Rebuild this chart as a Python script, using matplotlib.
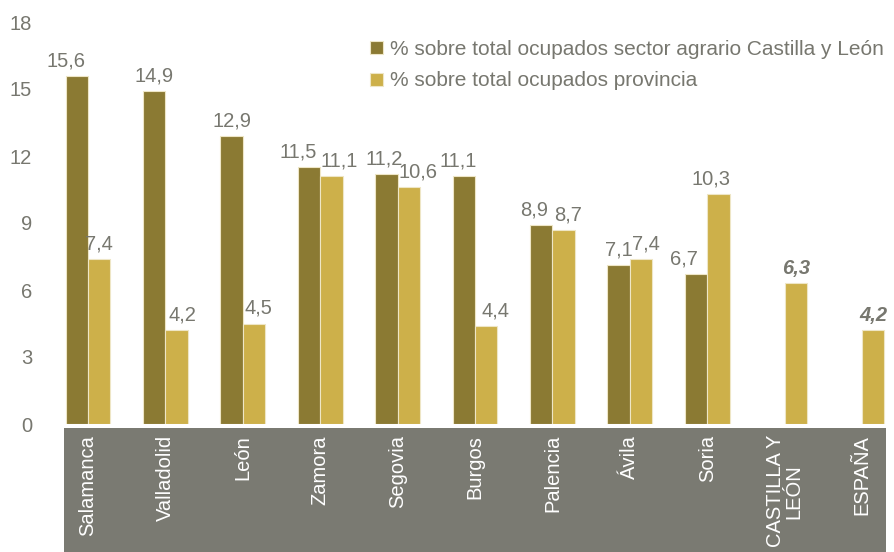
import matplotlib
matplotlib.use("Agg")
import matplotlib.pyplot as plt
from matplotlib.patches import Rectangle
import numpy as np

categories = ["Salamanca", "Valladolid", "León", "Zamora", "Segovia", "Burgos",
              "Palencia", "Ávila", "Soria", "CASTILLA Y\nLEÓN", "ESPAÑA"]
sector_cyl = [15.6, 14.9, 12.9, 11.5, 11.2, 11.1, 8.9, 7.1, 6.7, None, None]
provincia = [7.4, 4.2, 4.5, 11.1, 10.6, 4.4, 8.7, 7.4, 10.3, 6.3, 4.2]
legend_labels = ["% sobre total ocupados sector agrario Castilla y León",
                 "% sobre total ocupados provincia"]
yticks = [0, 3, 6, 9, 12, 15, 18]

# horizontal nudges of the value labels (pixels), as placed in the original
nudge_dark = [-11, 0, 0, -11, -2, -6, -7, 0, -12]
nudge_light = [0, 6, 4, 8, 9, 9, 4, 5, -7, 0, 0]

DARK = "#8B7A33"
LIGHT = "#CDB04A"
GREY_TXT = "#77776F"
BAND = "#7A7A72"
FS = 14.5

plt.rcParams['font.family'] = ['Liberation Sans', 'DejaVu Sans']

fig = plt.figure(figsize=(8.94, 5.52), dpi=100)
ax = fig.add_axes([64/894, (552-424)/552, (886-64)/894, (424-22)/552])

# grey band for category labels
fig.patches.append(Rectangle((64/894, 0), (886-64)/894, (552-428)/552,
                             transform=fig.transFigure, facecolor=BAND,
                             edgecolor='none', zorder=-10))

x = np.arange(len(categories))
w = 0.29
d_idx = [i for i, v in enumerate(sector_cyl) if v is not None]
d_vals = [sector_cyl[i] for i in d_idx]
b1 = ax.bar(x[d_idx] - w/2, d_vals, w, color=DARK, edgecolor="#EEE6C6",
            linewidth=0.8, label=legend_labels[0])
b2 = ax.bar(x + w/2, provincia, w, color=LIGHT, edgecolor="#EEE6C6",
            linewidth=0.8, label=legend_labels[1])

def fmt(v):
    return f"{v:.1f}".replace(".", ",")

px = 0.72  # points per pixel at 100 dpi
for i, v in zip(d_idx, d_vals):
    ax.annotate(fmt(v), (i - w/2, v), xytext=(nudge_dark[i]*px, 4),
                textcoords='offset points', ha='center', va='bottom',
                fontsize=FS, color=GREY_TXT)
for i, v in enumerate(provincia):
    bold = i >= 9
    ax.annotate(fmt(v), (i + w/2, v), xytext=(nudge_light[i]*px, 4),
                textcoords='offset points', ha='center', va='bottom',
                fontsize=FS, color=GREY_TXT,
                fontweight='bold' if bold else 'normal',
                fontstyle='italic' if bold else 'normal')

ax.set_xlim(-0.31, 10.31)
ax.set_ylim(0, 18)
ax.set_yticks(yticks)
ax.set_yticklabels([str(t) for t in yticks])
ax.tick_params(axis='y', length=0, pad=23, labelsize=FS, labelcolor=GREY_TXT)
ax.set_xticks(x)
ax.set_xticklabels(categories, rotation=90, va='top', ha='center',
                   multialignment='center', fontsize=FS, color='white',
                   linespacing=0.95)
ax.tick_params(axis='x', length=0, pad=8)
for s in ax.spines.values():
    s.set_visible(False)
ax.patch.set_alpha(0)

ax.legend(handles=[b1, b2], loc='upper left',
          bbox_to_anchor=(370/894, 1 - 40/552), bbox_transform=fig.transFigure,
          frameon=False, fontsize=15, labelcolor=GREY_TXT,
          handlelength=0.6, handleheight=0.6, handletextpad=0.35,
          labelspacing=0.6, borderpad=0, borderaxespad=0)

fig.savefig("out.png", dpi=100)
